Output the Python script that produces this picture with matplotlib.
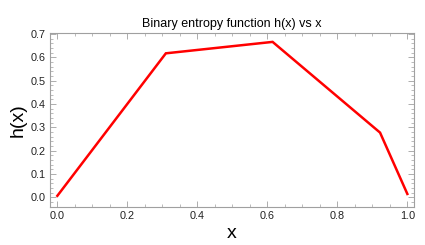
import matplotlib
matplotlib.use('Agg')
import matplotlib.pyplot as plt
from matplotlib.ticker import MultipleLocator

# valores
x = [0.0, 0.31, 0.615, 0.922, 1.0]
h = [0.006, 0.617, 0.666, 0.277, 0.014]

plt.rcParams['font.family'] = ['Liberation Sans', 'DejaVu Sans']

fig = plt.figure(figsize=(4.25, 2.45), dpi=100)
ax = fig.add_axes([50 / 425, 1 - 207 / 245, 364 / 425, 173.5 / 245])

ax.plot(x, h, color='red', linewidth=1.8, solid_joinstyle='miter')

ax.set_xlim(-0.021, 1.019)
ax.set_ylim(-0.042, 0.702)

ax.xaxis.set_major_locator(MultipleLocator(0.2))
ax.xaxis.set_minor_locator(MultipleLocator(0.05))
ax.yaxis.set_major_locator(MultipleLocator(0.1))
ax.yaxis.set_minor_locator(MultipleLocator(0.02))
ax.xaxis.set_major_formatter('{x:.1f}')
ax.yaxis.set_major_formatter('{x:.1f}')

gris = '#a0a0a0'
for s in ax.spines.values():
    s.set_color(gris)
    s.set_linewidth(0.8)
ax.tick_params(which='both', direction='in', top=True, right=True,
               color=gris, labelsize=7.8, labelcolor='#222222')
ax.tick_params(which='major', length=4, width=0.6, pad=3)
ax.tick_params(which='minor', length=2, width=0.5)

ax.set_title('Binary entropy function h(x) vs x', fontsize=9, pad=5)
ax.set_xlabel('x', fontsize=14, labelpad=3)
ax.set_ylabel('h(x)', fontsize=14, labelpad=3)

fig.savefig('out.png', dpi=100)
